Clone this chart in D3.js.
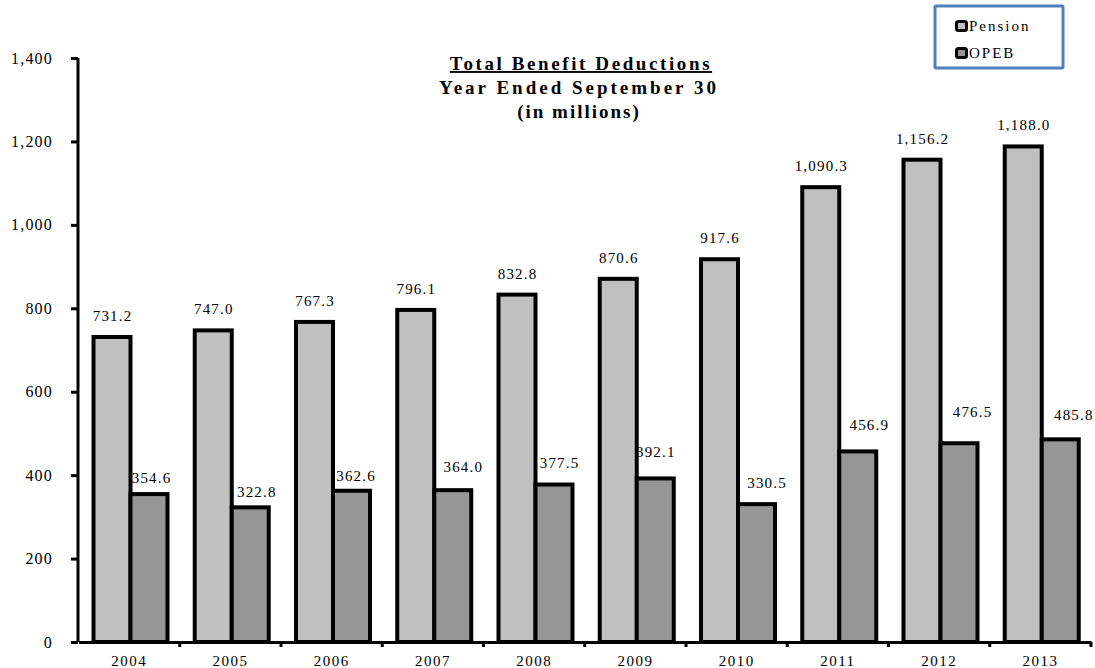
<!DOCTYPE html>
<html>
<head>
<meta charset="utf-8">
<script src="https://cdn.jsdelivr.net/npm/d3@7"></script>
<style>
  body { margin: 0; background: #fff; }
  text { font-family: "Liberation Serif", "Times New Roman", serif; }
</style>
</head>
<body>
<div id="chart"></div>
<script>
var years = ["2004", "2005", "2006", "2007", "2008", "2009", "2010", "2011", "2012", "2013"]
var pension = [731.2, 747.0, 767.3, 796.1, 832.8, 870.6, 917.6, 1090.3, 1156.2, 1188.0]
var opeb = [354.6, 322.8, 362.6, 364.0, 377.5, 392.1, 330.5, 456.9, 476.5, 485.8]
var series = ["Pension", "OPEB"]
var yTicks = [0, 200, 400, 600, 800, 1000, 1200, 1400]

// OPEB labels were nudged by hand in the original, keep that look
var opebNudgeX = [2, 6, 4, 10, 5, 0, 10, 11, 13, 13]
var opebNudgeY = [16, 15, 15, 23, 22, 26, 21, 26, 31, 24]

var W = 1095, H = 668
var color = d3.scaleOrdinal().domain(series).range(["#c0c0c0", "#969696"])

var svg = d3.select("#chart").append("svg")
  .attr("width", W)
  .attr("height", H)

var x = d3.scaleBand()
  .domain(years)
  .range([78.5, 1091])

var sub = d3.scaleBand()
  .domain(series)
  .range([15, 89])

var y = d3.scaleLinear()
  .domain([0, 1400])
  .range([642, 58])

var fmt = d3.format(",.1f")

// bars
var groups = svg.selectAll(".yr")
  .data(years)
  .enter().append("g")
  .attr("class", "yr")
  .attr("transform", d => "translate(" + x(d) + ",0)")

groups.each(function (yr, i) {
  var g = d3.select(this)
  var vals = [
    { k: "Pension", v: pension[i], dx: 0, dy: 21 },
    { k: "OPEB", v: opeb[i], dx: opebNudgeX[i], dy: opebNudgeY[i] }
  ]
  g.selectAll("rect")
    .data(vals)
    .enter().append("rect")
    .attr("x", d => sub(d.k))
    .attr("width", sub.bandwidth())
    .attr("y", d => y(d.v))
    .attr("height", d => y(0) - y(d.v))
    .attr("fill", d => color(d.k))
    .attr("stroke", "#000")
    .attr("stroke-width", 4)

  g.selectAll("text.val")
    .data(vals)
    .enter().append("text")
    .attr("class", "val")
    .attr("x", d => sub(d.k) + sub.bandwidth() / 2 + d.dx + 0.6)
    .attr("y", d => y(d.v) - d.dy + 5)
    .attr("text-anchor", "middle")
    .attr("font-size", 15)
    .attr("letter-spacing", 1.2)
    .attr("fill", "#000")
    .text(d => fmt(d.v))
})

// y axis
var yAxis = svg.append("g")
  .attr("transform", "translate(78,0)")
  .call(d3.axisLeft(y).tickValues(yTicks).tickFormat(d3.format(",")).tickSize(7).tickPadding(18))
yAxis.select(".domain").attr("stroke-width", 3).attr("d", "M0," + y(1400) + "V" + y(0))
yAxis.selectAll(".tick line").attr("stroke-width", 3).attr("x1", -7).attr("x2", 0)
yAxis.selectAll(".tick text")
  .attr("font-size", 16)
  .attr("font-family", "Liberation Serif")
  .attr("letter-spacing", 1.2)
  .attr("fill", "#000")

// x axis
var xAxis = svg.append("g")
  .attr("transform", "translate(0," + y(0) + ")")
  .call(d3.axisBottom(x).tickSize(0).tickPadding(13))
xAxis.select(".domain").attr("stroke-width", 3)
xAxis.selectAll(".tick text")
  .attr("font-size", 15)
  .attr("font-family", "Liberation Serif")
  .attr("letter-spacing", 1.5)
  .attr("fill", "#000")
xAxis.selectAll(".sep")
  .data(years)
  .enter().append("line")
  .attr("class", "sep")
  .attr("x1", d => x(d) + x.bandwidth())
  .attr("x2", d => x(d) + x.bandwidth())
  .attr("y1", 0).attr("y2", 5)
  .attr("stroke", "#000")
  .attr("stroke-width", 3)

// title
var title = svg.append("g").attr("font-weight", "bold").attr("text-anchor", "middle")
title.append("text").attr("x", 581).attr("y", 70).attr("font-size", 19).attr("letter-spacing", 2.6)
  .attr("text-decoration", "underline").text("Total Benefit Deductions")
title.append("text").attr("x", 579).attr("y", 94).attr("font-size", 19).attr("letter-spacing", 3)
  .text("Year Ended September 30")
title.append("text").attr("x", 579).attr("y", 118).attr("font-size", 19).attr("letter-spacing", 2)
  .text("(in millions)")

// legend
var leg = svg.append("g")
leg.append("rect")
  .attr("x", 935).attr("y", 6).attr("width", 128).attr("height", 62)
  .attr("fill", "#fff").attr("stroke", "#4f81bd").attr("stroke-width", 3).attr("rx", 1)
var items = leg.selectAll(".li")
  .data(series)
  .enter().append("g")
  .attr("class", "li")
  .attr("transform", (d, i) => "translate(955," + (26 + i * 27) + ")")
items.append("rect")
  .attr("x", 1.5).attr("y", -4.5).attr("width", 10).attr("height", 9).attr("rx", 2)
  .attr("fill", d => color(d)).attr("stroke", "#000").attr("stroke-width", 3)
items.append("text")
  .attr("x", 14).attr("y", 5)
  .attr("font-size", 15)
  .attr("letter-spacing", 2)
  .text(d => d)
</script>
</body>
</html>
